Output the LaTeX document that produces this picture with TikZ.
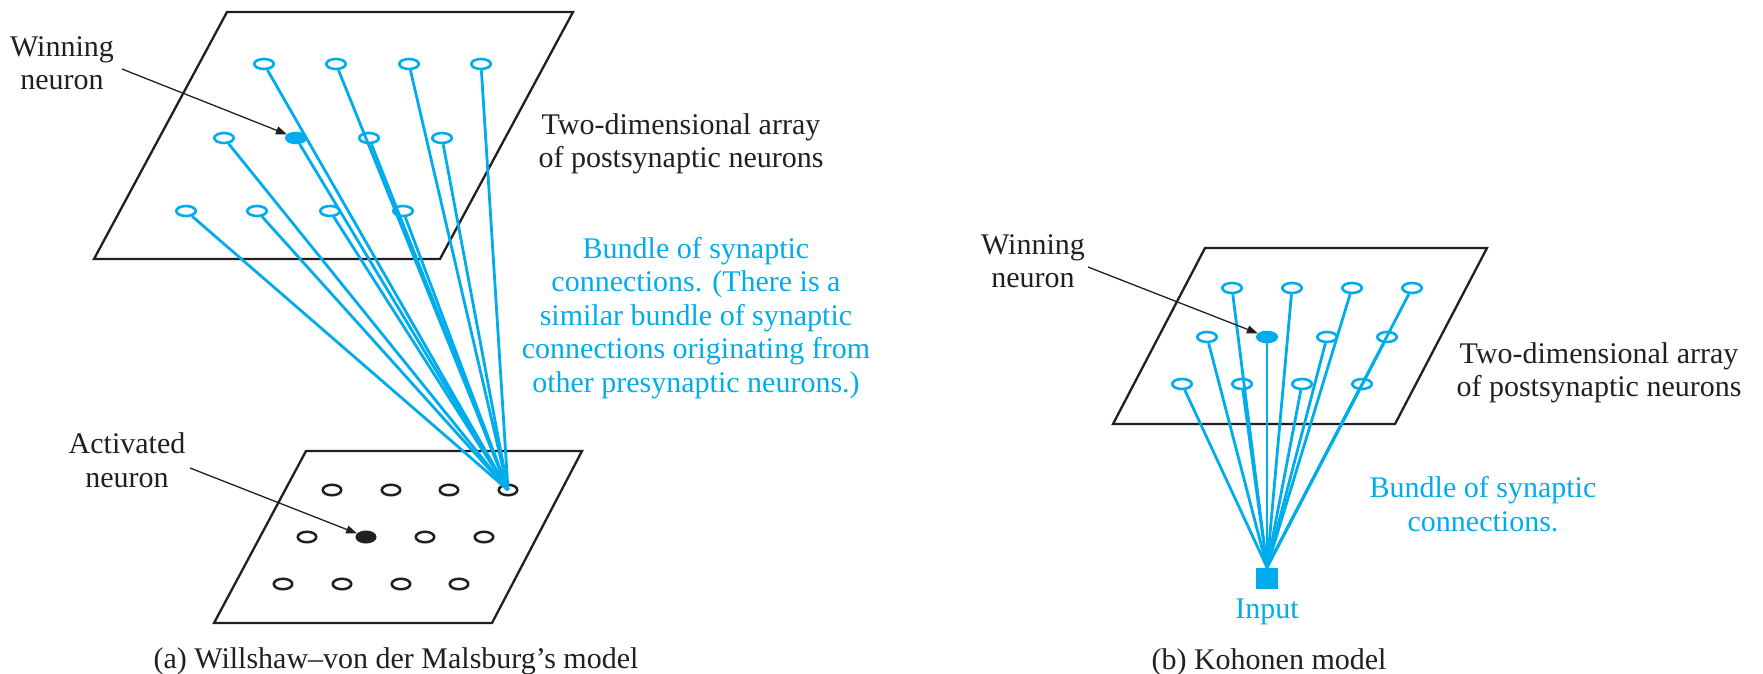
\documentclass[tikz,border=0pt]{standalone}
\usepackage{fontspec}
\setmainfont{Liberation Serif}
\usetikzlibrary{shapes.geometric,arrows.meta}
\definecolor{cy}{RGB}{0,172,236}
\definecolor{ink}{RGB}{35,31,32}
\tikzset{
  plane/.style={draw=ink,line width=2.3pt,line join=miter},
  neu/.style={ellipse,draw=cy,line width=2.6pt,minimum width=19.5pt,minimum height=10pt,inner sep=0pt},
  neuk/.style={ellipse,draw=ink,line width=2.5pt,minimum width=18.5pt,minimum height=10.5pt,inner sep=0pt},
  conn/.style={draw=cy,line width=2.8pt},
  lbl/.style={text=ink,align=center,inner sep=0pt,font=\fontsize{30}{33.5}\selectfont},
  blbl/.style={lbl,text=cy},
  ptr/.style={draw=ink,line width=1.3pt,-{Triangle[length=11pt,width=8pt]}}
}
\begin{document}
\begin{tikzpicture}[x=1pt,y=-1pt]
\useasboundingbox (0,0) rectangle (1763,674);
% ---------------- (a) ----------------
\draw[plane] (227,12) -- (573,12) -- (440,259) -- (94,259) -- cycle;
\draw[plane] (306,451) -- (582,451) -- (492,623) -- (214,623) -- cycle;
% top neurons
\node[neu] (t11) at (264,64) {};
\node[neu] (t12) at (336,64) {};
\node[neu] (t13) at (409,64) {};
\node[neu] (t14) at (481,64) {};
\node[neu] (t21) at (224,138) {};
\node[neu,fill=cy] (t22) at (296,138) {};
\node[neu] (t23) at (369,138) {};
\node[neu] (t24) at (442,138) {};
\node[neu] (t31) at (186,211) {};
\node[neu] (t32) at (257,211) {};
\node[neu] (t33) at (330,211) {};
\node[neu] (t34) at (403,211) {};
% bottom neurons
\node[neuk] (b11) at (332,490) {};
\node[neuk] (b12) at (391,490) {};
\node[neuk] (b13) at (449,490) {};
\node[neuk] (b14) at (508,490) {};
\node[neuk] (b21) at (307,537) {};
\node[neuk,fill=ink] (b22) at (366,537) {};
\node[neuk] (b23) at (425,537) {};
\node[neuk] (b24) at (484,537) {};
\node[neuk] (b31) at (283,584) {};
\node[neuk] (b32) at (342,584) {};
\node[neuk] (b33) at (401,584) {};
\node[neuk] (b34) at (459,584) {};
% bundle
\foreach \n in {t11,t12,t13,t14,t21,t22,t23,t24,t31,t32,t33,t34}
  \draw[conn] (\n) -- (b14.center);
% labels
\node[lbl] (wlab) at (62,63) {Winning\\neuron};
\coordinate (wa) at (122,69);
\draw[ptr] (wa) -- (t22);
\node[lbl] (alab) at (127,460) {Activated\\neuron};
\coordinate (aa) at (190,468);
\draw[ptr] (aa) -- (b22);
\node[lbl] (tda) at (681,144) {Two-dimensional array\\of postsynaptic neurons};
\node[blbl] (bua) at (696,318) {Bundle of synaptic\\connections. (There is a\\similar bundle of synaptic\\connections originating from\\other presynaptic neurons.)};
\node[lbl] (capa) at (396,661) {(a) Willshaw--von der Malsburg's model};
% ---------------- (b) ----------------
\draw[plane] (1205,248) -- (1487,248) -- (1395,424) -- (1113,424) -- cycle;
\node[neu] (r11) at (1232,288) {};
\node[neu] (r12) at (1292,288) {};
\node[neu] (r13) at (1352,288) {};
\node[neu] (r14) at (1412,288) {};
\node[neu] (r21) at (1207,337) {};
\node[neu,fill=cy] (r22) at (1267,337) {};
\node[neu] (r23) at (1327,337) {};
\node[neu] (r24) at (1387,337) {};
\node[neu] (r31) at (1182,384) {};
\node[neu] (r32) at (1242,384) {};
\node[neu] (r33) at (1302,384) {};
\node[neu] (r34) at (1362,384) {};
\node[fill=cy,minimum width=22pt,minimum height=21pt,inner sep=0pt] (inp) at (1267,578) {};
\foreach \n in {r11,r12,r13,r14,r21,r22,r23,r24,r31,r32,r33,r34}
  \draw[conn] (\n) -- (inp.north);
\node[blbl] (inl) at (1267,612) {Input};
\node[lbl] (wlb) at (1033,261) {Winning\\neuron};
\coordinate (wb) at (1088,267);
\draw[ptr] (wb) -- (r22);
\node[lbl] (tdb) at (1599,373) {Two-dimensional array\\of postsynaptic neurons};
\node[blbl] (bub) at (1483,504) {Bundle of synaptic\\connections.};
\node[lbl] (capb) at (1269,662) {(b) Kohonen model};
\end{tikzpicture}
\end{document}
